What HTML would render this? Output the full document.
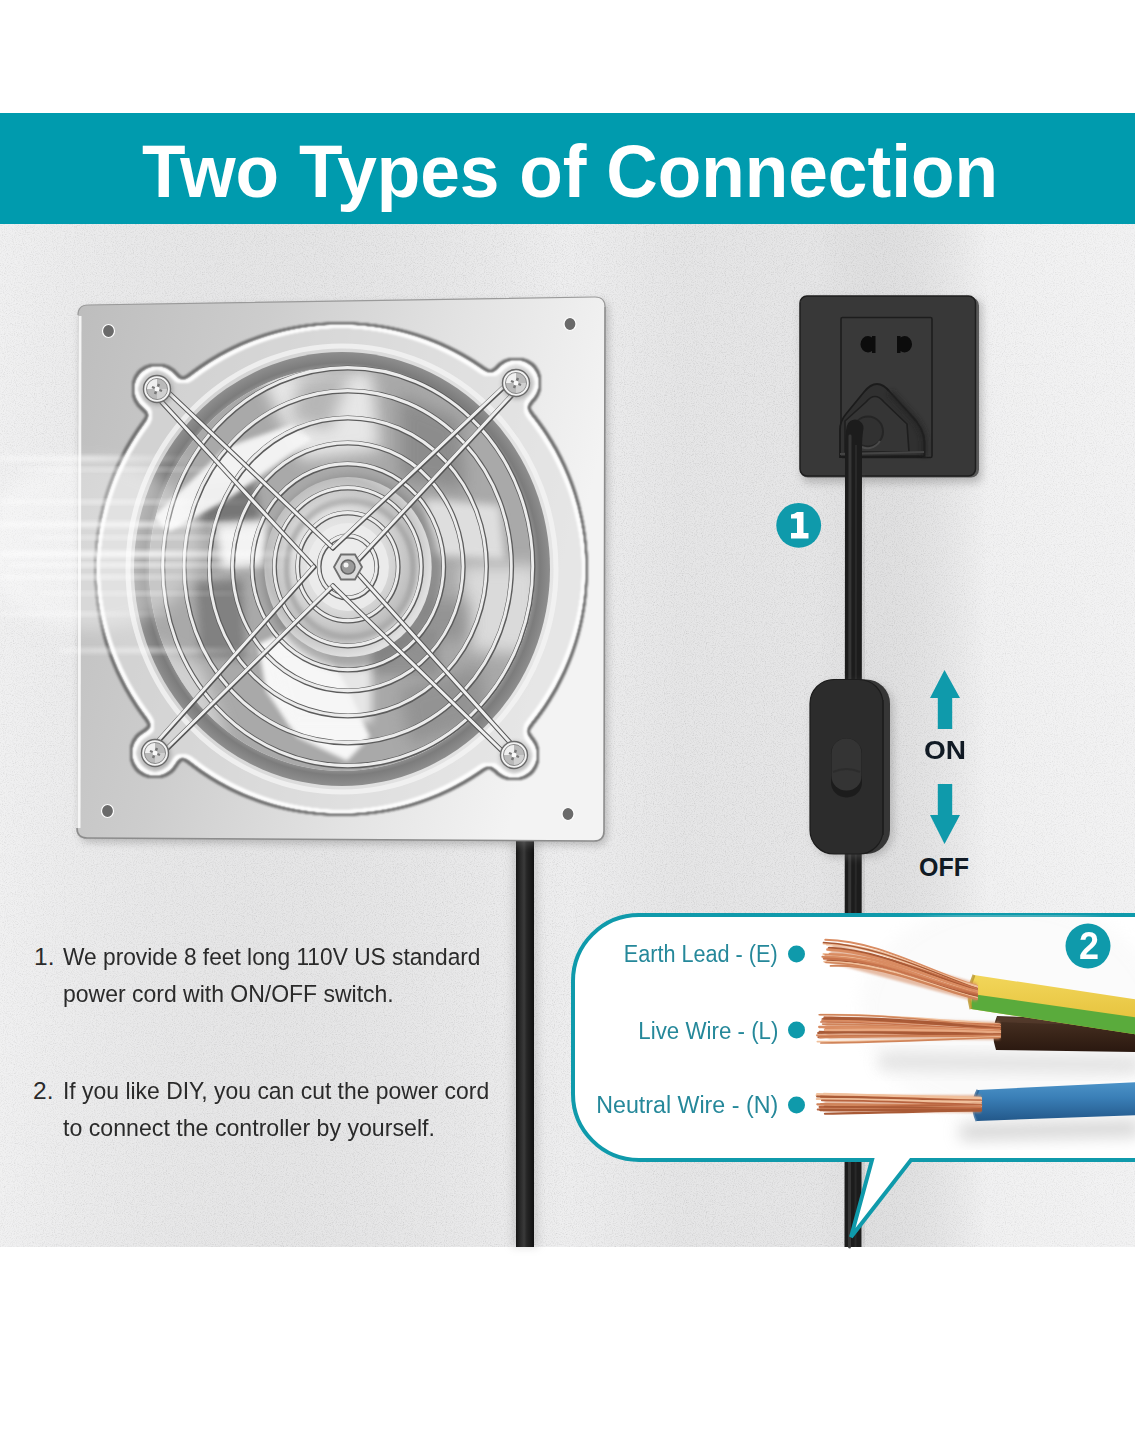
<!DOCTYPE html>
<html><head><meta charset="utf-8">
<style>
html,body{margin:0;padding:0;background:#fff;}
body{width:1135px;height:1440px;position:relative;overflow:hidden;font-family:"Liberation Sans",sans-serif;}
#banner{position:absolute;left:0;top:113px;width:1135px;height:111px;background:#009bae;}
#title{position:absolute;left:142px;top:132px;font-weight:bold;font-size:74px;color:#fff;white-space:nowrap;line-height:80px;transform:scaleX(0.9625);transform-origin:0 0;}
svg{position:absolute;left:0;top:0;}
.t{position:absolute;white-space:nowrap;color:#2a2a2a;font-size:24.5px;line-height:28px;transform-origin:0 0;}
.lbl{position:absolute;white-space:nowrap;color:#25889a;font-size:23px;line-height:26px;transform-origin:100% 0;}
.num{position:absolute;color:#fff;font-weight:bold;text-align:center;}
.oo{position:absolute;color:#111a24;font-weight:bold;font-size:25px;line-height:28px;white-space:nowrap;}
</style></head>
<body>
<svg width="1135" height="1440" viewBox="0 0 1135 1440">
<defs>
<filter id="noise" x="0" y="0" width="100%" height="100%">
  <feTurbulence type="fractalNoise" baseFrequency="0.9" numOctaves="2" seed="4" result="n"/>
  <feColorMatrix type="matrix" values="1.6 0 0 0 0.1  1.6 0 0 0 0.1  1.6 0 0 0 0.1  0 0 0 0 0.22"/>
</filter>
<filter id="fillShape" x="-10%" y="-10%" width="120%" height="120%">
  <feGaussianBlur in="SourceAlpha" stdDeviation="6" result="b"/>
  <feComponentTransfer in="b" result="shape"><feFuncA type="linear" slope="40" intercept="-19.5"/></feComponentTransfer>
  <feFlood flood-color="#dcdcdc" flood-opacity="0.55"/>
  <feComposite in2="shape" operator="in"/>
</filter>
<filter id="edgeDark" x="-10%" y="-10%" width="120%" height="120%">
  <feGaussianBlur in="SourceAlpha" stdDeviation="6" result="b"/>
  <feComponentTransfer in="b" result="shape"><feFuncA type="linear" slope="40" intercept="-19.5"/></feComponentTransfer>
  <feMorphology in="shape" operator="dilate" radius="3" result="dil"/>
  <feComposite in="dil" in2="shape" operator="out" result="edge"/>
  <feFlood flood-color="#6e6e6e"/>
  <feComposite in2="edge" operator="in"/>
  <feGaussianBlur stdDeviation="1.1"/>
</filter>
<filter id="edgeLight" x="-10%" y="-10%" width="120%" height="120%">
  <feGaussianBlur in="SourceAlpha" stdDeviation="6" result="b"/>
  <feComponentTransfer in="b" result="shape"><feFuncA type="linear" slope="40" intercept="-19.5"/></feComponentTransfer>
  <feMorphology in="shape" operator="erode" radius="3" result="er"/>
  <feComposite in="shape" in2="er" operator="out" result="edge"/>
  <feFlood flood-color="#ffffff"/>
  <feComposite in2="edge" operator="in"/>
  <feGaussianBlur stdDeviation="0.8"/>
</filter>
<filter id="blur2" x="-50%" y="-50%" width="200%" height="200%"><feGaussianBlur stdDeviation="2"/></filter>
<filter id="blur4" x="-50%" y="-50%" width="200%" height="200%"><feGaussianBlur stdDeviation="4"/></filter>
<filter id="blur8" x="-50%" y="-50%" width="200%" height="200%"><feGaussianBlur stdDeviation="8"/></filter>
<filter id="blur1" x="-50%" y="-50%" width="200%" height="200%"><feGaussianBlur stdDeviation="1"/></filter>
<linearGradient id="streakG" x1="0" y1="0" x2="1" y2="0">
  <stop offset="0" stop-color="#fff" stop-opacity="0.7"/>
  <stop offset="0.45" stop-color="#fff" stop-opacity="1"/>
  <stop offset="1" stop-color="#fff" stop-opacity="0"/>
</linearGradient>
<linearGradient id="wallShade" x1="0" y1="0" x2="1" y2="0">
  <stop offset="0" stop-color="#fff" stop-opacity="0.15"/>
  <stop offset="0.5" stop-color="#000" stop-opacity="0.0"/>
  <stop offset="0.6" stop-color="#000" stop-opacity="0.035"/>
  <stop offset="0.72" stop-color="#000" stop-opacity="0.035"/>
  <stop offset="0.87" stop-color="#fff" stop-opacity="0.2"/>
  <stop offset="1" stop-color="#fff" stop-opacity="0.25"/>
</linearGradient>
<linearGradient id="plateG" x1="0" y1="0" x2="1" y2="0.25">
  <stop offset="0" stop-color="#bdbdbd"/>
  <stop offset="0.35" stop-color="#cdcdcd"/>
  <stop offset="0.7" stop-color="#e3e3e3"/>
  <stop offset="1" stop-color="#f3f3f3"/>
</linearGradient>
<radialGradient id="housingG" cx="0.5" cy="0.5" r="0.5">
  <stop offset="0" stop-color="#e0e0e0"/>
  <stop offset="0.4" stop-color="#c4c4c4"/>
  <stop offset="0.8" stop-color="#adadad"/>
  <stop offset="1" stop-color="#cfcfcf"/>
</radialGradient>
<radialGradient id="hubG" cx="0.45" cy="0.45" r="0.55">
  <stop offset="0" stop-color="#f4f4f4"/>
  <stop offset="0.5" stop-color="#dcdcdc"/>
  <stop offset="0.8" stop-color="#bdbdbd"/>
  <stop offset="1" stop-color="#e0e0e0"/>
</radialGradient>
<linearGradient id="bladeG" x1="0" y1="0" x2="1" y2="1">
  <stop offset="0" stop-color="#f2f2f2"/>
  <stop offset="0.5" stop-color="#bcbcbc"/>
  <stop offset="1" stop-color="#8f8f8f"/>
</linearGradient>
<radialGradient id="rimG" cx="0.5" cy="0.5" r="0.5">
  <stop offset="0.9" stop-color="#a8a8a8"/>
  <stop offset="0.95" stop-color="#7c7c7c"/>
  <stop offset="1" stop-color="#8e8e8e"/>
</radialGradient>
<linearGradient id="ringG" x1="0" y1="0" x2="1" y2="0.3">
  <stop offset="0" stop-color="#c9c9c9"/>
  <stop offset="0.45" stop-color="#d9d9d9"/>
  <stop offset="1" stop-color="#f0f0f0"/>
</linearGradient>
<linearGradient id="bladeL" x1="0" y1="0" x2="1" y2="0.5">
  <stop offset="0" stop-color="#f5f5f5"/>
  <stop offset="0.6" stop-color="#d5d5d5"/>
  <stop offset="1" stop-color="#9a9a9a"/>
</linearGradient>
<linearGradient id="bladeD" x1="0" y1="0" x2="1" y2="0.5">
  <stop offset="0" stop-color="#9c9c9c"/>
  <stop offset="0.5" stop-color="#7d7d7d"/>
  <stop offset="1" stop-color="#c2c2c2"/>
</linearGradient>
<linearGradient id="bladeD2" x1="0" y1="0" x2="1" y2="0.5">
  <stop offset="0" stop-color="#c8c8c8"/>
  <stop offset="0.5" stop-color="#8f8f8f"/>
  <stop offset="1" stop-color="#e3e3e3"/>
</linearGradient>
<linearGradient id="switchG" x1="0" y1="0" x2="1" y2="0">
  <stop offset="0" stop-color="#262626"/>
  <stop offset="0.5" stop-color="#303030"/>
  <stop offset="1" stop-color="#1e1e1e"/>
</linearGradient>
<linearGradient id="cableG" x1="0" y1="0" x2="1" y2="0">
  <stop offset="0" stop-color="#151515"/>
  <stop offset="0.45" stop-color="#3a3a3a"/>
  <stop offset="0.6" stop-color="#262626"/>
  <stop offset="1" stop-color="#101010"/>
</linearGradient>
<linearGradient id="copperG" x1="0" y1="0" x2="0" y2="1">
  <stop offset="0" stop-color="#e9b08c"/>
  <stop offset="0.5" stop-color="#c87a52"/>
  <stop offset="1" stop-color="#a65a36"/>
</linearGradient>
<linearGradient id="blueG" x1="0" y1="0" x2="0" y2="1">
  <stop offset="0" stop-color="#4c93c8"/>
  <stop offset="0.4" stop-color="#3a7fb7"/>
  <stop offset="1" stop-color="#23588a"/>
</linearGradient>
<linearGradient id="brownG" x1="0" y1="0" x2="0" y2="1">
  <stop offset="0" stop-color="#4a3325"/>
  <stop offset="0.5" stop-color="#3a2519"/>
  <stop offset="1" stop-color="#2a1810"/>
</linearGradient>
<linearGradient id="yellowG" x1="0" y1="0" x2="0" y2="1">
  <stop offset="0" stop-color="#f2d65a"/>
  <stop offset="1" stop-color="#e2bd35"/>
</linearGradient>
<clipPath id="bubbleClip"><path d="M639,915 H1140 V1160 H911 L851,1237 L872,1160 H639 A66,66 0 0 1 573,1094 V981 A66,66 0 0 1 639,915 Z"/></clipPath>
<clipPath id="wallClip"><rect x="0" y="224" width="1135" height="1023"/></clipPath>
<clipPath id="housingClip"><ellipse cx="342" cy="569" rx="193" ry="202"/></clipPath>
</defs>
<rect x="0" y="224" width="1135" height="1023" fill="#e9e9ea"/>
<rect x="0" y="224" width="1135" height="1023" filter="url(#noise)"/>
<rect x="0" y="224" width="1135" height="1023" fill="url(#wallShade)"/>
<rect x="512" y="838" width="26" height="409" fill="#999" opacity="0.35" filter="url(#blur4)"/>
<rect x="516" y="838" width="18" height="409" fill="url(#cableG)"/>
<path d="M88,305 L595,297 Q605,297 605,307 L604,831 Q604,841 594,841 L87,838 Q77,838 77,828 L78,315 Q78,305 88,305 Z" transform="translate(3,4)" fill="#777" opacity="0.45" filter="url(#blur4)"/>
<path d="M88,305 L595,297 Q605,297 605,307 L604,831 Q604,841 594,841 L87,838 Q77,838 77,828 L78,315 Q78,305 88,305 Z" fill="url(#plateG)"/>
<path d="M605,307 L604,831 Q604,841 594,841 L87,838 Q77,838 77,828" fill="none" stroke="#8c8c8c" stroke-width="1.6"/>
<path d="M78,315 Q78,305 88,305 L595,297 Q605,297 605,307" fill="none" stroke="#9a9a9a" stroke-width="1.2"/>
<path d="M80,316 L79,828" stroke="#fafafa" stroke-width="3" opacity="0.9"/>
<ellipse cx="108.5" cy="331" rx="6" ry="6.5" fill="#6a6a6a" stroke="#fff" stroke-width="1.2"/>
<ellipse cx="570" cy="324" rx="6" ry="6.5" fill="#6a6a6a" stroke="#fff" stroke-width="1.2"/>
<ellipse cx="107.5" cy="811" rx="6" ry="6.5" fill="#6a6a6a" stroke="#fff" stroke-width="1.2"/>
<ellipse cx="568" cy="814" rx="6" ry="6.5" fill="#6a6a6a" stroke="#fff" stroke-width="1.2"/>
<g filter="url(#edgeDark)"><circle cx="341" cy="569" r="244"/><circle cx="157" cy="389" r="23"/><circle cx="516" cy="383" r="23"/><circle cx="155" cy="753" r="23"/><circle cx="514" cy="755" r="23"/></g>
<g filter="url(#fillShape)"><circle cx="341" cy="569" r="244"/><circle cx="157" cy="389" r="23"/><circle cx="516" cy="383" r="23"/><circle cx="155" cy="753" r="23"/><circle cx="514" cy="755" r="23"/></g>
<g filter="url(#edgeLight)"><circle cx="341" cy="569" r="244"/><circle cx="157" cy="389" r="23"/><circle cx="516" cy="383" r="23"/><circle cx="155" cy="753" r="23"/><circle cx="514" cy="755" r="23"/></g>
<ellipse cx="342" cy="569" rx="214" ry="223" fill="none" stroke="#f4f4f4" stroke-width="5" opacity="0.8"/>
<ellipse cx="342" cy="569" rx="208" ry="217" fill="url(#rimG)"/>
<ellipse cx="342" cy="569" rx="193" ry="202" fill="url(#housingG)"/>
<g clip-path="url(#housingClip)">
<ellipse cx="342" cy="569" rx="193" ry="202" fill="#a9a9a9"/>
<polygon points="258,372 372,372 380,450 300,460" fill="#eeeeee" opacity="0.9" filter="url(#blur8)"/>
<polygon points="200,486 253,480 262,522 200,526" fill="#6e6e6e" opacity="0.85" filter="url(#blur4)"/>
<polygon points="153,517 227,447 293,424 312,439 231,497 169,532" fill="#f6f6f6" opacity="0.95" filter="url(#blur2)"/>
<polygon points="215,525 266,520 268,565 222,568" fill="#fbfbfb" opacity="0.9" filter="url(#blur4)"/>
<polygon points="196,582 242,579 246,660 200,655" fill="#777777" opacity="0.8" filter="url(#blur4)"/>
<polygon points="258,644 308,621 347,687 370,737 347,761 297,737 266,691" fill="#fbfbfb" opacity="0.95" filter="url(#blur2)"/>
<polygon points="271,650 372,645 372,722 290,722" fill="#f6f6f6" opacity="0.8" filter="url(#blur4)"/>
<polygon points="400,395 460,420 465,490 400,480" fill="#838383" opacity="0.75" filter="url(#blur8)"/>
<polygon points="425,499 500,505 505,560 430,555" fill="#e8e8e8" opacity="0.85" filter="url(#blur4)"/>
<polygon points="372,631 438,631 440,675 375,675" fill="#888888" opacity="0.7" filter="url(#blur4)"/>
<polygon points="400,690 480,665 490,720 410,745" fill="#8a8a8a" opacity="0.7" filter="url(#blur8)"/>
<polygon points="460,565 540,565 540,655 470,650" fill="#e6e6e6" opacity="0.8" filter="url(#blur8)"/>
<polygon points="150,640 200,665 230,745 160,700" fill="#dedede" opacity="0.75" filter="url(#blur8)"/>
<polygon points="300,380 350,372 330,430 290,420" fill="#8f8f8f" opacity="0.55" filter="url(#blur8)"/>
<polygon points="420,600 470,600 470,640 420,640" fill="#7f7f7f" opacity="0.5" filter="url(#blur8)"/>
</g>
<g transform="translate(348,567) scale(0.93,1) translate(-348,-567)">
<circle cx="352" cy="572" r="96" fill="#7a7a7a" opacity="0.6" filter="url(#blur4)"/>
<circle cx="348" cy="567" r="90" fill="url(#hubG)"/>
<circle cx="350" cy="569" r="68" fill="none" stroke="#9a9a9a" stroke-width="6" opacity="0.6" filter="url(#blur2)"/>
<circle cx="348" cy="567" r="44" fill="#ececec" opacity="0.9"/>
<circle cx="348" cy="567" r="31" fill="none" stroke="#5c5c5c" stroke-width="5.2"/>
<circle cx="348" cy="567" r="31" fill="none" stroke="#ececec" stroke-width="3.1" transform="translate(-0.4,-0.4)"/>
<circle cx="348" cy="567" r="54" fill="none" stroke="#5c5c5c" stroke-width="5.2"/>
<circle cx="348" cy="567" r="54" fill="none" stroke="#ececec" stroke-width="3.1" transform="translate(-0.4,-0.4)"/>
<circle cx="348" cy="567" r="79" fill="none" stroke="#5c5c5c" stroke-width="5.2"/>
<circle cx="348" cy="567" r="79" fill="none" stroke="#ececec" stroke-width="3.1" transform="translate(-0.4,-0.4)"/>
<circle cx="348" cy="567" r="103" fill="none" stroke="#5c5c5c" stroke-width="5.2"/>
<circle cx="348" cy="567" r="103" fill="none" stroke="#ececec" stroke-width="3.1" transform="translate(-0.4,-0.4)"/>
<circle cx="348" cy="567" r="124" fill="none" stroke="#5c5c5c" stroke-width="5.2"/>
<circle cx="348" cy="567" r="124" fill="none" stroke="#ececec" stroke-width="3.1" transform="translate(-0.4,-0.4)"/>
<circle cx="348" cy="567" r="149" fill="none" stroke="#5c5c5c" stroke-width="5.2"/>
<circle cx="348" cy="567" r="149" fill="none" stroke="#ececec" stroke-width="3.1" transform="translate(-0.4,-0.4)"/>
<circle cx="348" cy="567" r="176" fill="none" stroke="#5c5c5c" stroke-width="5.2"/>
<circle cx="348" cy="567" r="176" fill="none" stroke="#ececec" stroke-width="3.1" transform="translate(-0.4,-0.4)"/>
<circle cx="348" cy="567" r="199" fill="none" stroke="#5c5c5c" stroke-width="5.2"/>
<circle cx="348" cy="567" r="199" fill="none" stroke="#ececec" stroke-width="3.1" transform="translate(-0.4,-0.4)"/>
</g>
<path d="M163.0,387.3 L333.0,548.0" fill="none" stroke="#555" stroke-width="5" stroke-linecap="round"/>
<path d="M163.0,387.3 L333.0,548.0" fill="none" stroke="#f0f0f0" stroke-width="3" stroke-linecap="round" transform="translate(-0.4,-0.4)"/>
<path d="M155.2,395.0 L314.0,567.0" fill="none" stroke="#555" stroke-width="5" stroke-linecap="round"/>
<path d="M155.2,395.0 L314.0,567.0" fill="none" stroke="#f0f0f0" stroke-width="3" stroke-linecap="round" transform="translate(-0.4,-0.4)"/>
<path d="M510.0,381.2 L333.0,548.0" fill="none" stroke="#555" stroke-width="5" stroke-linecap="round"/>
<path d="M510.0,381.2 L333.0,548.0" fill="none" stroke="#f0f0f0" stroke-width="3" stroke-linecap="round" transform="translate(-0.4,-0.4)"/>
<path d="M517.8,389.0 L352.0,567.0" fill="none" stroke="#555" stroke-width="5" stroke-linecap="round"/>
<path d="M517.8,389.0 L352.0,567.0" fill="none" stroke="#f0f0f0" stroke-width="3" stroke-linecap="round" transform="translate(-0.4,-0.4)"/>
<path d="M153.1,747.0 L314.0,567.0" fill="none" stroke="#555" stroke-width="5" stroke-linecap="round"/>
<path d="M153.1,747.0 L314.0,567.0" fill="none" stroke="#f0f0f0" stroke-width="3" stroke-linecap="round" transform="translate(-0.4,-0.4)"/>
<path d="M161.0,754.6 L333.0,586.0" fill="none" stroke="#555" stroke-width="5" stroke-linecap="round"/>
<path d="M161.0,754.6 L333.0,586.0" fill="none" stroke="#f0f0f0" stroke-width="3" stroke-linecap="round" transform="translate(-0.4,-0.4)"/>
<path d="M508.0,756.7 L333.0,586.0" fill="none" stroke="#555" stroke-width="5" stroke-linecap="round"/>
<path d="M508.0,756.7 L333.0,586.0" fill="none" stroke="#f0f0f0" stroke-width="3" stroke-linecap="round" transform="translate(-0.4,-0.4)"/>
<path d="M515.9,749.0 L352.0,567.0" fill="none" stroke="#555" stroke-width="5" stroke-linecap="round"/>
<path d="M515.9,749.0 L352.0,567.0" fill="none" stroke="#f0f0f0" stroke-width="3" stroke-linecap="round" transform="translate(-0.4,-0.4)"/>
<polygon points="334,567 341,554.5 355,554.5 362,567 355,579.5 341,579.5" fill="#dcdcdc" stroke="#6e6e6e" stroke-width="1.8"/>
<circle cx="348" cy="567" r="7" fill="#9a9a9a" stroke="#666" stroke-width="1.5"/>
<circle cx="346" cy="565" r="2.5" fill="#f4f4f4"/>
<circle cx="158" cy="390.5" r="15" fill="#777" opacity="0.45" filter="url(#blur2)"/>
<circle cx="157" cy="389" r="13.5" fill="#f2f2f2" stroke="#6a6a6a" stroke-width="1.4"/>
<circle cx="157" cy="389" r="10.5" fill="#b9b9b9" stroke="#8a8a8a" stroke-width="1"/>
<path d="M147,389 A10,10 0 0 1 157,379 L157,389 Z" fill="#efefef"/>
<path d="M167,389 A10,10 0 0 1 157,399 L157,389 Z" fill="#d0d0d0"/>
<path d="M152,387 L162,391 M155,394 L159,384" stroke="#777" stroke-width="2.4"/>
<circle cx="157" cy="389" r="2.5" fill="#fafafa"/>
<circle cx="517" cy="384.5" r="15" fill="#777" opacity="0.45" filter="url(#blur2)"/>
<circle cx="516" cy="383" r="13.5" fill="#f2f2f2" stroke="#6a6a6a" stroke-width="1.4"/>
<circle cx="516" cy="383" r="10.5" fill="#b9b9b9" stroke="#8a8a8a" stroke-width="1"/>
<path d="M506,383 A10,10 0 0 1 516,373 L516,383 Z" fill="#efefef"/>
<path d="M526,383 A10,10 0 0 1 516,393 L516,383 Z" fill="#d0d0d0"/>
<path d="M511,381 L521,385 M514,388 L518,378" stroke="#777" stroke-width="2.4"/>
<circle cx="516" cy="383" r="2.5" fill="#fafafa"/>
<circle cx="156" cy="754.5" r="15" fill="#777" opacity="0.45" filter="url(#blur2)"/>
<circle cx="155" cy="753" r="13.5" fill="#f2f2f2" stroke="#6a6a6a" stroke-width="1.4"/>
<circle cx="155" cy="753" r="10.5" fill="#b9b9b9" stroke="#8a8a8a" stroke-width="1"/>
<path d="M145,753 A10,10 0 0 1 155,743 L155,753 Z" fill="#efefef"/>
<path d="M165,753 A10,10 0 0 1 155,763 L155,753 Z" fill="#d0d0d0"/>
<path d="M150,751 L160,755 M153,758 L157,748" stroke="#777" stroke-width="2.4"/>
<circle cx="155" cy="753" r="2.5" fill="#fafafa"/>
<circle cx="515" cy="756.5" r="15" fill="#777" opacity="0.45" filter="url(#blur2)"/>
<circle cx="514" cy="755" r="13.5" fill="#f2f2f2" stroke="#6a6a6a" stroke-width="1.4"/>
<circle cx="514" cy="755" r="10.5" fill="#b9b9b9" stroke="#8a8a8a" stroke-width="1"/>
<path d="M504,755 A10,10 0 0 1 514,745 L514,755 Z" fill="#efefef"/>
<path d="M524,755 A10,10 0 0 1 514,765 L514,755 Z" fill="#d0d0d0"/>
<path d="M509,753 L519,757 M512,760 L516,750" stroke="#777" stroke-width="2.4"/>
<circle cx="514" cy="755" r="2.5" fill="#fafafa"/>
<ellipse cx="90" cy="545" rx="110" ry="85" fill="#fff" opacity="0.35" filter="url(#blur8)"/>
<rect x="0" y="456" width="200" height="5" rx="2" fill="url(#streakG)" opacity="0.60" filter="url(#blur2)"/>
<rect x="20" y="468" width="240" height="3" rx="2" fill="url(#streakG)" opacity="0.50" filter="url(#blur2)"/>
<rect x="0" y="500" width="260" height="4" rx="2" fill="url(#streakG)" opacity="0.55" filter="url(#blur2)"/>
<rect x="0" y="522" width="300" height="5" rx="2" fill="url(#streakG)" opacity="0.75" filter="url(#blur2)"/>
<rect x="30" y="536" width="250" height="3" rx="2" fill="url(#streakG)" opacity="0.60" filter="url(#blur2)"/>
<rect x="0" y="551" width="320" height="6" rx="2" fill="url(#streakG)" opacity="0.80" filter="url(#blur2)"/>
<rect x="10" y="563" width="280" height="4" rx="2" fill="url(#streakG)" opacity="0.70" filter="url(#blur2)"/>
<rect x="0" y="575" width="240" height="4" rx="2" fill="url(#streakG)" opacity="0.60" filter="url(#blur2)"/>
<rect x="40" y="592" width="220" height="3" rx="2" fill="url(#streakG)" opacity="0.50" filter="url(#blur2)"/>
<rect x="0" y="612" width="180" height="4" rx="2" fill="url(#streakG)" opacity="0.45" filter="url(#blur2)"/>
<rect x="60" y="648" width="200" height="5" rx="2" fill="url(#streakG)" opacity="0.50" filter="url(#blur2)"/>
<rect x="802" y="300" width="180" height="183" rx="7" fill="#888" opacity="0.5" filter="url(#blur4)"/>
<rect x="800" y="297.5" width="179" height="180" rx="8" fill="#5a5a5a"/>
<rect x="800" y="296" width="175.5" height="180" rx="7" fill="#383838" stroke="#1e1e1e" stroke-width="1.5"/>
<rect x="841" y="317.5" width="91" height="140" rx="1.5" fill="#393939" stroke="#1d1d1d" stroke-width="1.6"/>
<path d="M875.5,336 L875.5,353 L872,353 L872,351 A8,8 0 0 1 868,352.5 A7.5,8.2 0 0 1 868,336 A8,8 0 0 1 872,337.5 L872,336 Z" fill="#0c0c0c"/>
<path d="M897,336 L897,353 L900.5,353 L900.5,351 A8,8 0 0 0 904.5,352.5 A7.5,8.2 0 0 0 904.5,336 A8,8 0 0 0 900.5,337.5 L900.5,336 Z" fill="#0c0c0c"/>
<path d="M840,457 L840,430 Q840,421 846,414 L864,392 Q877,376 890,392 L910,414 Q924,428 924.5,442 L924.5,456 Z" fill="#303030" stroke="#1b1b1b" stroke-width="1.8"/>
<path d="M890,392 L910,414 Q924,428 924.5,442 L924.5,456" fill="none" stroke="#222" stroke-width="7" opacity="0.6" filter="url(#blur2)"/>
<path d="M845,452 L845,421 L866,402 Q875,391 884,402 L907,424 L909,452 Z" fill="#353535" stroke="#1e1e1e" stroke-width="1.6"/>
<path d="M840,454 L924,452" stroke="#444" stroke-width="2"/>
<circle cx="868" cy="431.5" r="15" fill="#313131" stroke="#252525" stroke-width="2"/>
<path d="M858,445 A15,15 0 0 0 880,441" fill="none" stroke="#4a4a4a" stroke-width="2"/>
<path d="M864,480 L863,1247" stroke="#999" stroke-width="8" opacity="0.35" filter="url(#blur4)" clip-path="url(#wallClip)"/>
<path d="M855,428 Q853.5,436 853.5,450 L853,1247" fill="none" stroke="#1c1c1c" stroke-width="17" stroke-linecap="round" clip-path="url(#wallClip)"/>
<path d="M850,436 L849.5,1247" fill="none" stroke="#3a3a3a" stroke-width="3" opacity="0.9" stroke-linecap="round"/>
<path d="M856,445 L855.5,1247" fill="none" stroke="#2b2b2b" stroke-width="2" opacity="0.9"/>
<circle cx="798.7" cy="525.3" r="22.4" fill="#0f9aab"/>
<path d="M797,512 L803.5,512 L803.5,533 L808.5,533 L808.5,538.5 L791,538.5 L791,533 L797,533 L797,518.5 L791,518.5 L791,514.5 Q794.5,514 797,512 Z" fill="#fff"/>
<rect x="813" y="683" width="80" height="174" rx="24" fill="#777" opacity="0.4" filter="url(#blur4)"/>
<rect x="810" y="679.5" width="80" height="174.5" rx="24" fill="#363636"/>
<rect x="810" y="679.5" width="73" height="174.5" rx="24" fill="#2c2c2c" stroke="#1c1c1c" stroke-width="1.2"/>
<path d="M883,700 L883,835" stroke="#1e1e1e" stroke-width="1.5"/>
<rect x="831" y="738.5" width="31" height="59" rx="15" fill="#1c1c1c"/>
<rect x="831.5" y="738.5" width="30" height="52" rx="14.5" fill="#343434"/>
<path d="M833,772 Q846.5,766 860,772" fill="none" stroke="#2a2a2a" stroke-width="2" opacity="0.8"/>
<path d="M944.5,670 L960,698 L952.2,698 L952.2,729 L937.8,729 L937.8,698 L930,698 Z" fill="#0f9aab"/>
<path d="M944.5,844 L960,815 L952.2,815 L952.2,784 L937.8,784 L937.8,815 L930,815 Z" fill="#0f9aab"/>
<path d="M639,915 H1140 V1160 H911 L851,1237 L872,1160 H639 A66,66 0 0 1 573,1094 V981 A66,66 0 0 1 639,915 Z" fill="#fff" stroke="#0f9aab" stroke-width="4" stroke-linejoin="miter"/>
<g clip-path="url(#bubbleClip)">
<path d="M880,1054 L1140,1058 L1140,1072 L880,1068 Z" fill="#b8b8b8" opacity="0.55" filter="url(#blur8)"/>
<path d="M960,1124 L1140,1120 L1140,1136 L960,1140 Z" fill="#a8a8a8" opacity="0.5" filter="url(#blur8)"/>
<ellipse cx="1010" cy="1010" rx="150" ry="110" fill="#ededed" opacity="0.25" filter="url(#blur8)"/>
</g>
<path d="M997,1016 L1140,1021 L1140,1052 L996,1050 Q990,1033 997,1016 Z" fill="url(#brownG)"/>
<path d="M997,1017 L1140,1022 L1140,1027 L997,1022 Z" fill="#5a4030" opacity="0.6"/>
<path d="M974,975 L1140,1000 L1140,1035 L971,1009 Q966,992 974,975 Z" fill="url(#yellowG)"/>
<path d="M972,994 L1140,1018 L1140,1035 L971,1009 Z" fill="#5aab3c"/>
<path d="M974,975 Q966,992 971,1009" fill="none" stroke="#b8952a" stroke-width="3" opacity="0.8"/>
<path d="M978,1090 L1140,1082 L1140,1115 L977,1121 Q970,1105 978,1090 Z" fill="url(#blueG)"/>
<path d="M978,1090 Q970,1105 977,1121" fill="none" stroke="#2c6396" stroke-width="3" opacity="0.8"/>
<path d="M977,983 L834,943 Q826,953.5 834,964 L977,1002 Z" fill="#d58a60" opacity="0.55" filter="url(#blur1)"/>
<path d="M825.3,939.7 C878.4,940.3 931.5,972.8 977,985.9" fill="none" stroke="#d98c62" stroke-width="2.0" stroke-linecap="round"/>
<path d="M827.0,944.4 C879.5,942.5 932.0,975.2 977,986.5" fill="none" stroke="#f0c09c" stroke-width="2.2" stroke-linecap="round"/>
<path d="M823.4,943.5 C877.1,944.3 930.9,976.5 977,987.5" fill="none" stroke="#f0c09c" stroke-width="1.8" stroke-linecap="round"/>
<path d="M823.4,942.5 C877.2,945.3 930.9,972.0 977,988.5" fill="none" stroke="#a95a36" stroke-width="1.4" stroke-linecap="round"/>
<path d="M828.5,948.1 C880.5,950.4 932.4,977.7 977,988.6" fill="none" stroke="#b86440" stroke-width="1.8" stroke-linecap="round"/>
<path d="M830.4,949.1 C881.7,951.4 933.0,974.8 977,989.2" fill="none" stroke="#c9744c" stroke-width="1.9" stroke-linecap="round"/>
<path d="M829.0,947.7 C880.8,949.8 932.6,977.1 977,990.4" fill="none" stroke="#a95a36" stroke-width="1.8" stroke-linecap="round"/>
<path d="M827.3,949.5 C879.7,951.9 932.1,979.6 977,990.9" fill="none" stroke="#d98c62" stroke-width="2.3" stroke-linecap="round"/>
<path d="M823.5,954.0 C877.2,956.1 930.9,983.2 977,991.8" fill="none" stroke="#f0c09c" stroke-width="2.0" stroke-linecap="round"/>
<path d="M829.5,953.9 C881.1,954.4 932.7,979.0 977,991.6" fill="none" stroke="#d98c62" stroke-width="1.9" stroke-linecap="round"/>
<path d="M825.1,954.9 C878.3,952.3 931.4,983.8 977,992.8" fill="none" stroke="#d98c62" stroke-width="1.7" stroke-linecap="round"/>
<path d="M822.4,956.8 C876.5,957.5 930.6,980.3 977,994.3" fill="none" stroke="#d0845a" stroke-width="2.0" stroke-linecap="round"/>
<path d="M824.5,957.0 C877.9,955.5 931.3,980.9 977,995.1" fill="none" stroke="#d98c62" stroke-width="1.5" stroke-linecap="round"/>
<path d="M823.8,958.6 C877.4,958.1 931.0,984.1 977,994.0" fill="none" stroke="#c9744c" stroke-width="2.1" stroke-linecap="round"/>
<path d="M825.2,961.8 C878.4,959.7 931.5,987.4 977,995.3" fill="none" stroke="#b86440" stroke-width="1.9" stroke-linecap="round"/>
<path d="M827.4,960.8 C879.7,961.2 932.1,986.6 977,996.6" fill="none" stroke="#a95a36" stroke-width="1.9" stroke-linecap="round"/>
<path d="M824.1,961.7 C877.6,960.5 931.1,989.6 977,997.5" fill="none" stroke="#f0c09c" stroke-width="1.7" stroke-linecap="round"/>
<path d="M830.9,962.6 C882.0,961.5 933.2,986.9 977,998.3" fill="none" stroke="#f0c09c" stroke-width="2.0" stroke-linecap="round"/>
<path d="M826.2,962.5 C879.0,963.6 931.8,987.0 977,998.7" fill="none" stroke="#d0845a" stroke-width="1.7" stroke-linecap="round"/>
<path d="M830.6,965.9 C881.8,963.1 933.1,988.5 977,999.3" fill="none" stroke="#d0845a" stroke-width="1.9" stroke-linecap="round"/>
<path d="M1000,1022 L829,1016 Q821,1027.5 829,1039 L1000,1040 Z" fill="#d58a60" opacity="0.55" filter="url(#blur1)"/>
<path d="M820.3,1014.6 C883.2,1013.7 946.1,1020.8 1000,1024.3" fill="none" stroke="#f0c09c" stroke-width="1.7" stroke-linecap="round"/>
<path d="M824.3,1017.2 C885.8,1019.5 947.3,1023.2 1000,1024.5" fill="none" stroke="#c9744c" stroke-width="1.7" stroke-linecap="round"/>
<path d="M819.1,1014.8 C882.4,1013.2 945.7,1022.7 1000,1026.5" fill="none" stroke="#d0845a" stroke-width="1.5" stroke-linecap="round"/>
<path d="M823.1,1018.5 C885.0,1017.1 946.9,1026.3 1000,1027.4" fill="none" stroke="#c9744c" stroke-width="1.5" stroke-linecap="round"/>
<path d="M822.1,1020.7 C884.4,1019.6 946.6,1026.2 1000,1026.5" fill="none" stroke="#d98c62" stroke-width="1.9" stroke-linecap="round"/>
<path d="M824.5,1018.4 C886.0,1016.8 947.4,1024.2 1000,1028.3" fill="none" stroke="#a95a36" stroke-width="2.2" stroke-linecap="round"/>
<path d="M822.3,1019.0 C884.5,1018.6 946.7,1025.8 1000,1028.5" fill="none" stroke="#a95a36" stroke-width="1.7" stroke-linecap="round"/>
<path d="M820.8,1022.0 C883.5,1021.5 946.2,1028.8 1000,1028.7" fill="none" stroke="#c9744c" stroke-width="1.6" stroke-linecap="round"/>
<path d="M822.6,1024.1 C884.7,1024.2 946.8,1028.7 1000,1030.2" fill="none" stroke="#d0845a" stroke-width="1.6" stroke-linecap="round"/>
<path d="M823.0,1027.2 C884.9,1027.3 946.9,1028.6 1000,1030.8" fill="none" stroke="#e8a982" stroke-width="2.3" stroke-linecap="round"/>
<path d="M825.7,1029.2 C886.7,1027.3 947.7,1029.5 1000,1031.4" fill="none" stroke="#d98c62" stroke-width="2.3" stroke-linecap="round"/>
<path d="M825.1,1029.4 C886.3,1031.4 947.5,1031.7 1000,1032.1" fill="none" stroke="#d98c62" stroke-width="1.9" stroke-linecap="round"/>
<path d="M819.2,1027.0 C882.4,1024.6 945.7,1030.6 1000,1031.9" fill="none" stroke="#d98c62" stroke-width="2.3" stroke-linecap="round"/>
<path d="M819.3,1031.4 C882.5,1033.3 945.8,1031.8 1000,1032.2" fill="none" stroke="#a95a36" stroke-width="1.5" stroke-linecap="round"/>
<path d="M825.0,1030.2 C886.2,1028.3 947.5,1030.4 1000,1032.3" fill="none" stroke="#e8a982" stroke-width="2.3" stroke-linecap="round"/>
<path d="M817.1,1035.3 C881.1,1035.9 945.1,1036.4 1000,1034.3" fill="none" stroke="#d98c62" stroke-width="2.2" stroke-linecap="round"/>
<path d="M821.7,1032.9 C884.1,1030.7 946.5,1033.2 1000,1034.5" fill="none" stroke="#a95a36" stroke-width="1.4" stroke-linecap="round"/>
<path d="M818.1,1033.0 C881.8,1030.8 945.4,1036.2 1000,1034.2" fill="none" stroke="#a95a36" stroke-width="2.1" stroke-linecap="round"/>
<path d="M818.4,1037.2 C882.0,1035.1 945.5,1035.4 1000,1035.5" fill="none" stroke="#b86440" stroke-width="2.0" stroke-linecap="round"/>
<path d="M820.0,1037.5 C883.0,1035.6 946.0,1036.4 1000,1035.5" fill="none" stroke="#d0845a" stroke-width="2.1" stroke-linecap="round"/>
<path d="M817.4,1041.6 C881.3,1041.4 945.2,1039.0 1000,1036.8" fill="none" stroke="#f0c09c" stroke-width="1.8" stroke-linecap="round"/>
<path d="M820.9,1043.0 C883.6,1042.3 946.3,1039.2 1000,1037.5" fill="none" stroke="#d0845a" stroke-width="1.7" stroke-linecap="round"/>
<path d="M981,1095 L828,1095 Q820,1103.0 828,1111 L981,1113 Z" fill="#d58a60" opacity="0.55" filter="url(#blur1)"/>
<path d="M816.2,1095.3 C873.9,1094.4 931.5,1096.2 981,1097.5" fill="none" stroke="#f0c09c" stroke-width="1.5" stroke-linecap="round"/>
<path d="M823.9,1093.8 C878.9,1095.1 933.9,1096.6 981,1098.3" fill="none" stroke="#f0c09c" stroke-width="2.2" stroke-linecap="round"/>
<path d="M817.1,1094.2 C874.5,1095.1 931.8,1098.1 981,1099.1" fill="none" stroke="#f0c09c" stroke-width="2.2" stroke-linecap="round"/>
<path d="M821.1,1097.4 C877.0,1096.2 933.0,1099.7 981,1100.4" fill="none" stroke="#d98c62" stroke-width="1.9" stroke-linecap="round"/>
<path d="M820.7,1096.4 C876.8,1096.6 932.9,1099.7 981,1100.4" fill="none" stroke="#b86440" stroke-width="1.6" stroke-linecap="round"/>
<path d="M817.1,1096.5 C874.5,1097.5 931.8,1100.9 981,1102.1" fill="none" stroke="#a95a36" stroke-width="2.1" stroke-linecap="round"/>
<path d="M816.8,1099.0 C874.3,1100.5 931.7,1101.1 981,1101.7" fill="none" stroke="#f0c09c" stroke-width="2.1" stroke-linecap="round"/>
<path d="M824.4,1099.3 C879.2,1098.0 934.0,1101.6 981,1103.4" fill="none" stroke="#f0c09c" stroke-width="1.6" stroke-linecap="round"/>
<path d="M821.8,1100.3 C877.5,1100.2 933.2,1103.9 981,1104.6" fill="none" stroke="#b86440" stroke-width="1.7" stroke-linecap="round"/>
<path d="M821.0,1104.1 C877.0,1105.5 933.0,1104.5 981,1105.2" fill="none" stroke="#c9744c" stroke-width="2.4" stroke-linecap="round"/>
<path d="M817.4,1104.3 C874.7,1104.9 931.9,1106.0 981,1105.6" fill="none" stroke="#d0845a" stroke-width="2.3" stroke-linecap="round"/>
<path d="M819.6,1106.9 C876.1,1108.0 932.6,1104.7 981,1105.2" fill="none" stroke="#b86440" stroke-width="2.1" stroke-linecap="round"/>
<path d="M820.0,1109.2 C876.3,1109.9 932.7,1106.5 981,1106.6" fill="none" stroke="#e8a982" stroke-width="2.2" stroke-linecap="round"/>
<path d="M824.4,1106.5 C879.2,1107.6 934.0,1107.2 981,1107.4" fill="none" stroke="#a95a36" stroke-width="1.7" stroke-linecap="round"/>
<path d="M823.7,1110.5 C878.7,1110.8 933.8,1108.0 981,1107.9" fill="none" stroke="#c9744c" stroke-width="1.7" stroke-linecap="round"/>
<path d="M817.8,1109.5 C874.9,1109.7 932.0,1108.7 981,1109.4" fill="none" stroke="#b86440" stroke-width="2.2" stroke-linecap="round"/>
<path d="M820.3,1110.0 C876.6,1110.3 932.8,1110.3 981,1110.5" fill="none" stroke="#a95a36" stroke-width="2.3" stroke-linecap="round"/>
<path d="M824.9,1113.8 C879.6,1112.5 934.2,1112.0 981,1109.4" fill="none" stroke="#a95a36" stroke-width="2.1" stroke-linecap="round"/>
<circle cx="796.5" cy="954" r="8.5" fill="#0f9aab"/>
<circle cx="796.5" cy="1030" r="8.5" fill="#0f9aab"/>
<circle cx="796.5" cy="1105" r="8.5" fill="#0f9aab"/>
<circle cx="1088" cy="946" r="22.5" fill="#0f9aab"/>
</svg>
<div id="banner"></div>
<div id="title">Two Types of Connection</div>
<div class="t" style="left:34px;top:943px">1.</div>
<div class="t" style="left:63px;top:943px;transform:scaleX(0.928)">We provide 8 feet long 110V US standard</div>
<div class="t" style="left:63px;top:980px;transform:scaleX(0.938)">power cord with ON/OFF switch.</div>
<div class="t" style="left:33px;top:1077px">2.</div>
<div class="t" style="left:63px;top:1077px;transform:scaleX(0.935)">If you like DIY, you can cut the power cord</div>
<div class="t" style="left:63px;top:1114px;transform:scaleX(0.945)">to connect the controller by yourself.</div>
<div class="oo" style="left:924px;top:736px;transform:scaleX(1.12);transform-origin:0 0">ON</div>
<div class="oo" style="left:919px;top:853px">OFF</div>

<div class="num" style="left:1066px;top:925.5px;width:46px;font-size:38.7px;line-height:40px;transform:scaleX(0.93)">2</div>
<div class="lbl" style="right:357px;top:941px;transform:scaleX(0.94)">Earth Lead - (E)</div>
<div class="lbl" style="right:357px;top:1018px;transform:scaleX(0.97)">Live Wire - (L)</div>
<div class="lbl" style="right:357px;top:1092px;transform:scaleX(1.01)">Neutral Wire - (N)</div>
</body></html>
